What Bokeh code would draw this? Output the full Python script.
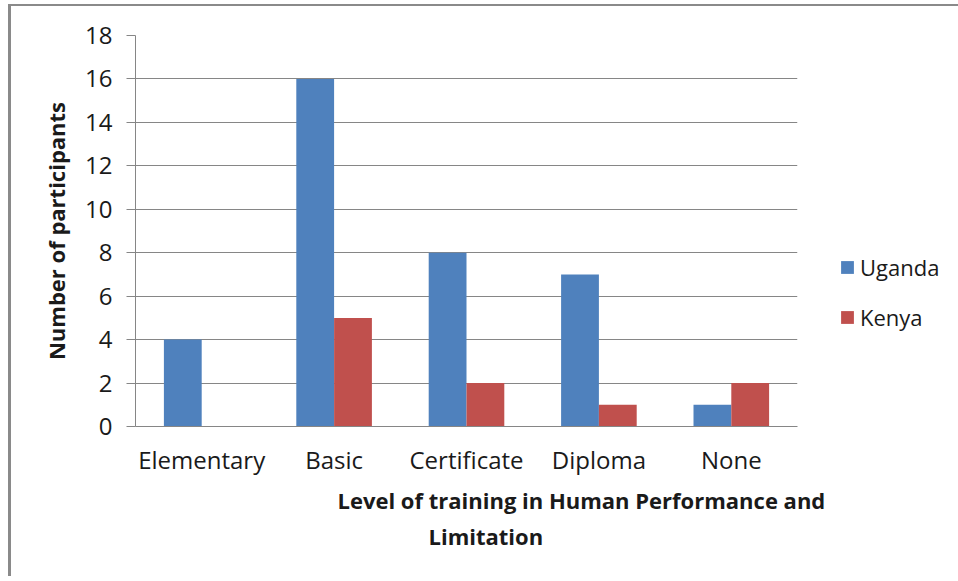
from bokeh.plotting import figure
from bokeh.models import ColumnDataSource, FactorRange, Range1d, FixedTicker, Title, Legend, LegendItem
from bokeh.transform import dodge
from bokeh.embed import file_html
from bokeh.resources import INLINE

categories = ["Elementary", "Basic", "Certificate", "Diploma", "None"]
uganda = [4, 16, 8, 7, 1]
kenya = [0, 5, 2, 1, 2]
y_ticks = [0, 2, 4, 6, 8, 10, 12, 14, 16, 18]
series_names = ["Uganda", "Kenya"]
colors = ["#4F81BD", "#C0504D"]
x_title_lines = ["Level of training in Human Performance and", "Limitation"]
y_title = "Number of participants"

FONT = "Open Sans"
GRID = "#868686"
TXT = "#1a1a1a"

source = ColumnDataSource(dict(cat=categories, uganda=uganda, kenya=kenya))

p = figure(frame_width=662, frame_height=391, x_range=FactorRange(*categories, range_padding=0),
           y_range=Range1d(0, max(y_ticks)), output_backend="svg", toolbar_location=None,
           min_border_left=124, min_border_right=154, min_border_top=29, min_border_bottom=150)
p.styles = {"border-top": "2px solid #8a8a8a", "border-left": "3px solid #8a8a8a",
            "margin-left": "8px", "margin-top": "4px"}

bw = 0.2855
r1 = p.vbar(x=dodge("cat", -bw / 2, range=p.x_range), top="uganda", width=bw, source=source,
            fill_color=colors[0], line_color=None)
r2 = p.vbar(x=dodge("cat", bw / 2, range=p.x_range), top="kenya", width=bw, source=source,
            fill_color=colors[1], line_color=None)

p.outline_line_color = None
p.xgrid.grid_line_color = None
p.ygrid.grid_line_color = GRID
p.ygrid.grid_line_width = 1

p.yaxis.ticker = FixedTicker(ticks=y_ticks)
p.yaxis.minor_tick_line_color = None
p.yaxis.major_tick_out = 9
p.yaxis.major_tick_in = 0
p.yaxis.major_tick_line_color = GRID
p.yaxis.axis_line_color = GRID
p.yaxis.major_label_text_font = FONT
p.yaxis.major_label_text_font_size = "24px"
p.yaxis.major_label_text_color = TXT
p.yaxis.major_label_standoff = 14
p.yaxis.axis_label = y_title
p.yaxis.axis_label_text_font = FONT
p.yaxis.axis_label_text_font_style = "bold"
p.yaxis.axis_label_text_font_size = "22px"
p.yaxis.axis_label_text_color = TXT
p.yaxis.axis_label_standoff = 11

p.xaxis.major_tick_out = 0
p.xaxis.major_tick_in = 0
p.xaxis.minor_tick_line_color = None
p.xaxis.axis_line_color = GRID
p.xaxis.major_label_text_font = FONT
p.xaxis.major_label_text_font_size = "24px"
p.xaxis.major_label_text_color = TXT
p.xaxis.major_label_standoff = 16

t1 = Title(text=x_title_lines[0], align="left", offset=202, standoff=8, text_font=FONT,
           text_font_style="bold", text_font_size="22px", text_color=TXT)
t2 = Title(text=x_title_lines[1], align="left", offset=293, standoff=1, text_font=FONT,
           text_font_style="bold", text_font_size="22px", text_color=TXT)
p.add_layout(t1, "below")
p.add_layout(t2, "below")

legend = Legend(items=[LegendItem(label=series_names[0], renderers=[r1]),
                       LegendItem(label=series_names[1], renderers=[r2])],
                location=(42, 94), glyph_width=16, glyph_height=16, label_standoff=5,
                spacing=20, padding=0, margin=0, border_line_color=None,
                background_fill_alpha=0, label_text_font=FONT, label_text_font_size="22px",
                label_text_color=TXT)
p.add_layout(legend, "right")

open("out.html", "w").write(file_html(p, INLINE))
